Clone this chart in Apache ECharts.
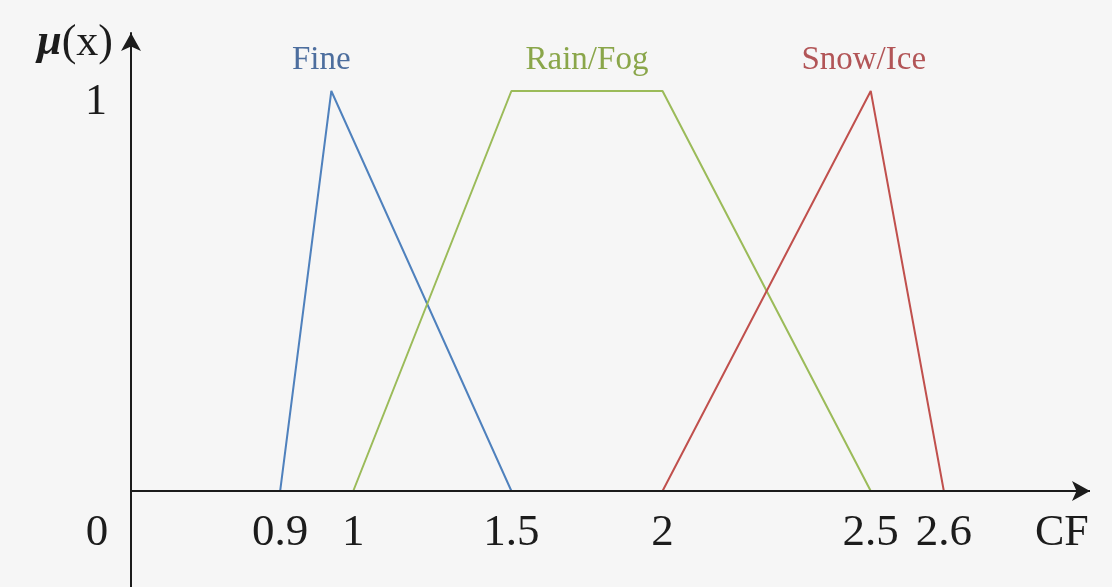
<!DOCTYPE html>
<html>
<head>
<meta charset="utf-8">
<script src="https://cdn.jsdelivr.net/npm/echarts@6/dist/echarts.min.js"></script>
<style>
html,body{margin:0;padding:0;background:#f6f6f6;}
#c{width:1112px;height:587px;}
</style>
</head>
<body>
<div id="c"></div>
<script>
// ---- data ----
const xTickValues = [0, 0.9, 1, 1.5, 2, 2.5, 2.6];
const yTickValues = [1];
const seriesNames = ['Fine', 'Rain/Fog', 'Snow/Ice'];
const fineCF = [0.9, 0.97, 1.5, 0.9];
const fineMu = [0, 1, 0, 0];
const rainCF = [1, 1.5, 2, 2.5];
const rainMu = [0, 1, 1, 0];
const snowCF = [2, 2.5, 2.6];
const snowMu = [0, 1, 0];

// ---- styling ----
const serif = '"Liberation Serif", "DejaVu Serif", serif';
const axisColor = '#1c1c1c';
const zip = (xs, ys) => xs.map((x, i) => [x, ys[i]]);

function makeSeries(name, xs, ys, color, textColor, labelCoord, offset, z) {
  return {
    type: 'line',
    name: name,
    data: zip(xs, ys),
    symbol: 'none',
    showSymbol: false,
    silent: true,
    z: z,
    lineStyle: { color: color, width: 2 },
    itemStyle: { color: color },
    markPoint: {
      symbol: 'circle',
      symbolSize: 0,
      silent: true,
      animation: false,
      label: {
        show: true,
        position: 'top',
        distance: 14,
        offset: offset,
        formatter: name,
        color: textColor,
        fontFamily: serif,
        fontSize: 33
      },
      data: [{ coord: labelCoord }]
    }
  };
}

const chart = echarts.init(document.getElementById('c'), null, { renderer: 'canvas' });

const series = [
  makeSeries(seriesNames[0], fineCF, fineMu, '#4F81BD', '#4d6e9e',
    [fineCF[1], fineMu[1]], [-10, 0], 2),
  makeSeries(seriesNames[1], rainCF, rainMu, '#9BBB59', '#8aa64a',
    [(rainCF[1] + rainCF[2]) / 2, rainMu[1]], [0, 0], 3),
  makeSeries(seriesNames[2], snowCF, snowMu, '#C0504D', '#b25557',
    [snowCF[1], snowMu[1]], [-7, 0], 3)
];
// horizontal axis line with arrow at mu = 0
series[1].markLine = {
  silent: true,
  animation: false,
  symbol: ['none', 'arrow'],
  symbolSize: [15, 18],
  label: { show: false },
  lineStyle: { color: axisColor, width: 2, type: 'solid' },
  data: [{ yAxis: 0 }]
};

const plain = { show: false };

const option = {
  animation: false,
  backgroundColor: '#f6f6f6',
  grid: [
    { left: 131, right: 22, top: 33, bottom: 96, outerBoundsMode: 'none', containLabel: false },
    // strip below the origin: carries the tail of the vertical axis
    { left: 131, right: 22, top: 491, bottom: 0, outerBoundsMode: 'none', containLabel: false }
  ],
  xAxis: [{
    type: 'value',
    min: 0,
    max: 2.8,
    breaks: [
      { start: 0.02, end: 0.88, gap: 0.1641 },
      { start: 1.02, end: 1.48, gap: 0.1764 },
      { start: 1.52, end: 1.98, gap: 0.1668 },
      { start: 2.02, end: 2.48, gap: 0.2449 }
    ],
    breakArea: { show: false, itemStyle: { opacity: 0, borderWidth: 0 } },
    name: 'CF',
    nameLocation: 'end',
    nameGap: -55,
    nameTextStyle: {
      fontFamily: serif, fontSize: 44, color: axisColor,
      align: 'left', verticalAlign: 'top', padding: [20, 0, 0, 0]
    },
    axisLine: {
      show: true, onZero: false,
      lineStyle: { color: axisColor, width: 2, opacity: 0 },
      symbol: 'none'
    },
    axisTick: plain,
    splitLine: plain,
    axisLabel: {
      show: true,
      customValues: xTickValues,
      margin: 20,
      fontFamily: serif,
      fontSize: 45,
      color: axisColor,
      hideOverlap: false,
      formatter: function (v) { return v === 0 ? '{o|0}' : '{n|' + v + '}'; },
      rich: {
        o: { fontFamily: serif, fontSize: 45, color: axisColor, padding: [0, 68, 0, 0] },
        n: { fontFamily: serif, fontSize: 45, color: axisColor }
      }
    }
  }, {
    gridIndex: 1, type: 'value', min: 0, max: 1, show: false
  }],
  yAxis: [{
    type: 'value',
    min: 0,
    max: 1.145,
    name: '{mu|μ}{p|(x)}',
    nameLocation: 'end',
    nameGap: -10,
    nameTextStyle: {
      align: 'right', verticalAlign: 'middle', padding: [0, 18, 0, 0],
      rich: {
        mu: { fontFamily: serif, fontSize: 44, fontStyle: 'italic', fontWeight: 'bold', color: axisColor },
        p: { fontFamily: serif, fontSize: 44, color: axisColor }
      }
    },
    axisLine: {
      show: true, onZero: false,
      lineStyle: { color: axisColor, width: 2 },
      symbol: ['none', 'arrow'], symbolSize: [15, 18]
    },
    axisTick: plain,
    splitLine: plain,
    axisLabel: {
      show: true,
      customValues: yTickValues,
      margin: 24,
      fontFamily: serif,
      fontSize: 44,
      color: axisColor,
      formatter: function (v) { return '{a|' + v + '}'; },
      rich: {
        a: { fontFamily: serif, fontSize: 44, color: axisColor, padding: [22, 0, 0, 0] }
      }
    }
  }, {
    gridIndex: 1, type: 'value', min: 0, max: 1,
    axisLine: { show: true, onZero: false, lineStyle: { color: axisColor, width: 2 }, symbol: 'none' },
    axisTick: plain, splitLine: plain, axisLabel: plain
  }],
  series: series
};

chart.setOption(option);
</script>
</body>
</html>
